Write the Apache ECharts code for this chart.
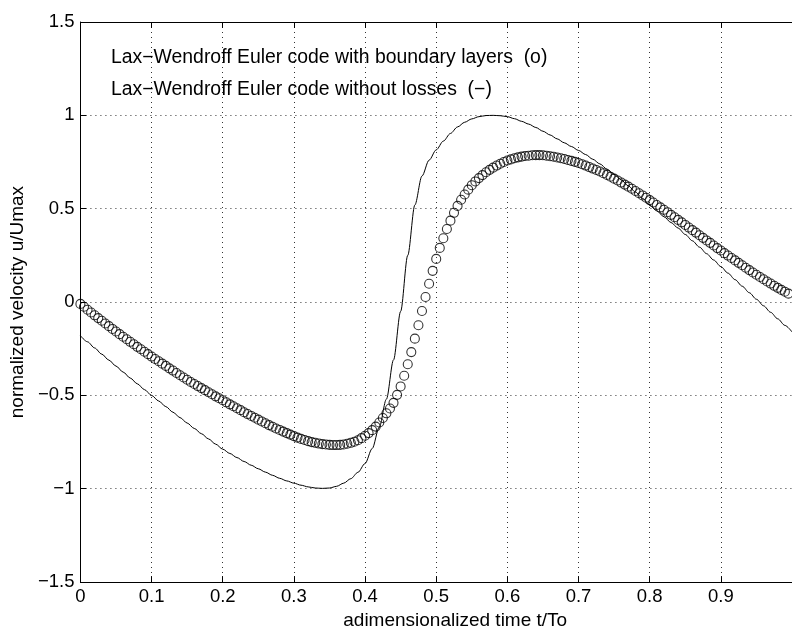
<!DOCTYPE html>
<html><head><meta charset="utf-8">
<script src="https://cdn.jsdelivr.net/npm/echarts@6/dist/echarts.min.js"></script>
<style>html,body{margin:0;padding:0;background:#fff}#chart{width:792px;height:635px}</style>
</head><body><div id="chart"></div>
<script>
// ---- data ----
const xAxisTitle = 'adimensionalized time t/To';
const yAxisTitle = 'normalized velocity u/Umax';
const legendLines = [
  'Lax\u2212Wendroff Euler code with boundary layers  (o)',
  'Lax\u2212Wendroff Euler code without losses  (\u2212)'
];
const xTickValues = [0, 0.1, 0.2, 0.3, 0.4, 0.5, 0.6, 0.7, 0.8, 0.9];
const yTickValues = [-1.5, -1, -0.5, 0, 0.5, 1, 1.5];

// with boundary layers (circles), sampled every 0.005 from t = 0
const circleStart = 0;
const circleStep = 0.005;
const circleValues = [
 -0.010,-0.025,-0.041,-0.056,-0.071,-0.086,-0.100,-0.115,-0.129,-0.144,
 -0.158,-0.172,-0.186,-0.199,-0.213,-0.226,-0.240,-0.253,-0.266,-0.279,
 -0.292,-0.305,-0.317,-0.330,-0.342,-0.355,-0.367,-0.380,-0.392,-0.404,
 -0.416,-0.428,-0.439,-0.450,-0.461,-0.472,-0.483,-0.494,-0.505,-0.515,
 -0.526,-0.537,-0.548,-0.558,-0.569,-0.579,-0.590,-0.600,-0.610,-0.620,
 -0.630,-0.640,-0.649,-0.659,-0.668,-0.677,-0.685,-0.694,-0.702,-0.710,
 -0.718,-0.726,-0.733,-0.739,-0.745,-0.750,-0.754,-0.758,-0.761,-0.763,
 -0.765,-0.766,-0.766,-0.765,-0.763,-0.759,-0.754,-0.748,-0.740,-0.729,
 -0.716,-0.702,-0.686,-0.667,-0.645,-0.621,-0.596,-0.570,-0.540,-0.497,
 -0.452,-0.395,-0.333,-0.268,-0.196,-0.124,-0.048, 0.027, 0.098, 0.167,
  0.231, 0.290, 0.342, 0.391, 0.436, 0.478, 0.515, 0.548, 0.576, 0.602,
  0.626, 0.646, 0.664, 0.680, 0.695, 0.708, 0.720, 0.731, 0.741, 0.750,
  0.758, 0.764, 0.770, 0.775, 0.779, 0.782, 0.784, 0.786, 0.787, 0.787,
  0.786, 0.784, 0.781, 0.778, 0.774, 0.770, 0.766, 0.761, 0.756, 0.751,
  0.745, 0.738, 0.731, 0.723, 0.715, 0.707, 0.699, 0.690, 0.681, 0.671,
  0.661, 0.651, 0.640, 0.629, 0.618, 0.607, 0.595, 0.583, 0.571, 0.559,
  0.546, 0.533, 0.520, 0.507, 0.494, 0.481, 0.467, 0.454, 0.440, 0.427,
  0.413, 0.399, 0.385, 0.372, 0.358, 0.344, 0.330, 0.317, 0.303, 0.289,
  0.276, 0.262, 0.249, 0.236, 0.223, 0.210, 0.197, 0.184, 0.171, 0.158,
  0.146, 0.134, 0.122, 0.110, 0.099, 0.087, 0.076, 0.065, 0.055, 0.045
];

// without losses (solid line), sampled every 0.01 from t = 0
const solidStart = 0;
const solidStep = 0.01;
const solidValues = [
 -0.180,-0.213,-0.246,-0.279,-0.311,-0.343,-0.375,-0.407,-0.438,-0.469,
 -0.500,-0.530,-0.560,-0.590,-0.619,-0.648,-0.677,-0.705,-0.733,-0.761,
 -0.788,-0.811,-0.833,-0.854,-0.874,-0.893,-0.911,-0.928,-0.944,-0.958,
 -0.970,-0.981,-0.990,-0.996,-0.998,-0.996,-0.987,-0.970,-0.946,-0.912,
 -0.865,-0.785,-0.670,-0.520,-0.310,-0.050, 0.250, 0.520, 0.675, 0.760,
  0.815, 0.862, 0.903, 0.938, 0.963, 0.981, 0.993, 0.999, 1.000, 0.998,
  0.993, 0.982, 0.968, 0.953, 0.935, 0.915, 0.895, 0.874, 0.853, 0.833,
  0.812, 0.790, 0.765, 0.740, 0.712, 0.684, 0.654, 0.622, 0.589, 0.555,
  0.520, 0.488, 0.457, 0.426, 0.396, 0.362, 0.328, 0.294, 0.259, 0.225,
  0.190, 0.155, 0.120, 0.085, 0.050, 0.015,-0.020,-0.055,-0.090,-0.125,
 -0.160
];

// ---- build ----
const circlePts = circleValues.map((v, i) => [+(circleStart + i * circleStep).toFixed(4), v]);
const solidPts = solidValues.map((v, i) => [+(solidStart + i * solidStep).toFixed(4), v]);

const FONT = '"Liberation Sans", Arial, Helvetica, sans-serif';
const FS_TICK = 18.5;
const FS_NAME = 19;
const FS_TEXT = 19.4;
const fmt = v => {
  const s = String(+(+v).toFixed(3));
  return s.replace('-', '\u2212');
};

const chart = echarts.init(document.getElementById('chart'), null, {renderer: 'canvas'});
const gridDash = {show: true, lineStyle: {color: '#333', width: 1, type: [1, 4]}};
chart.setOption({
  animation: false,
  backgroundColor: '#fff',
  grid: {left: 76, top: 22, width: 720, height: 569, containLabel: false},
  xAxis: [{
    type: 'value', min: 0, max: 1, interval: 0.1, position: 'bottom',
    name: xAxisTitle, nameLocation: 'middle', nameGap: 26,
    nameTextStyle: {color: '#000', fontFamily: FONT, fontSize: FS_NAME, padding: [0, 0, 0, 38]},
    axisLine: {show: true, onZero: false, lineStyle: {color: '#000', width: 1}},
    axisTick: {show: true, inside: true, length: 6, lineStyle: {color: '#000'}},
    axisLabel: {color: '#000', fontFamily: FONT, fontSize: FS_TICK, margin: 5, showMaxLabel: false,
      formatter: v => xTickValues.some(t => Math.abs(t - v) < 1e-9) ? fmt(v) : ''},
    splitLine: gridDash
  }, {
    type: 'value', min: 0, max: 1, interval: 0.1, position: 'top',
    axisLine: {show: true, onZero: false, lineStyle: {color: '#000', width: 1}},
    axisTick: {show: true, inside: true, length: 6, lineStyle: {color: '#000'}},
    axisLabel: {show: false}, splitLine: {show: false}
  }],
  yAxis: [{
    type: 'value', min: yTickValues[0], max: yTickValues[yTickValues.length - 1], interval: 0.5,
    name: yAxisTitle, nameLocation: 'middle', nameGap: 48, nameRotate: 90,
    nameTextStyle: {color: '#000', fontFamily: FONT, fontSize: FS_NAME},
    axisLine: {show: true, onZero: false, lineStyle: {color: '#000', width: 1}},
    axisTick: {show: true, inside: true, length: 6, lineStyle: {color: '#000'}},
    axisLabel: {color: '#000', fontFamily: FONT, fontSize: FS_TICK, margin: 6, formatter: fmt},
    splitLine: gridDash
  }],
  graphic: legendLines.map((t, i) => ({
    type: 'text', x: 111, y: 58 + i * 32, z: 10,
    style: {text: t, fill: '#000', fontFamily: FONT, fontSize: FS_TEXT, verticalAlign: 'middle', align: 'left'}
  })),
  series: [{
    name: 'without losses', type: 'line', data: solidPts, showSymbol: false, symbol: 'none',
    lineStyle: {color: '#000', width: 1}, smooth: 0.3, smoothMonotone: 'x', z: 3, clip: true
  }, {
    name: 'with boundary layers', type: 'scatter', data: circlePts, symbol: 'circle', symbolSize: 9,
    itemStyle: {color: 'rgba(0,0,0,0)', borderColor: '#000', borderWidth: 1.1}, z: 4
  }]
});
</script></body></html>
